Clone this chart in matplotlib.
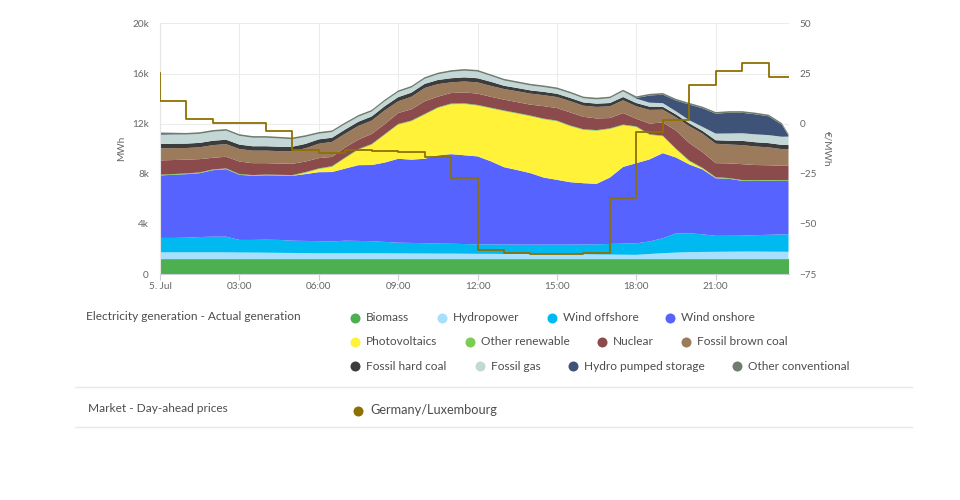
import numpy as np
import matplotlib
matplotlib.use('Agg')
import matplotlib.pyplot as plt
from matplotlib.lines import Line2D

plt.rcParams['font.family'] = ['Lato', 'DejaVu Sans']

W, H = 960, 500

# half hourly readings, last one is 23:45
hours = [i * 0.5 for i in range(48)] + [23.75]

biomass = [1180] * 49
hydro = [550, 550, 550, 550, 550, 550, 540, 530, 520, 510,
         500, 490, 480, 480, 480, 480, 480, 470, 470, 460,
         460, 450, 450, 440, 430, 430, 420, 420, 420, 420,
         420, 410, 400, 380, 370, 360, 350, 420, 480, 530,
         570, 580, 590, 600, 610, 610, 600, 600, 590]
wind_offshore = [1150, 1150, 1170, 1220, 1250, 1250, 1000, 1010, 1040, 1030,
                 980, 970, 960, 940, 1000, 980, 960, 910, 850, 840,
                 820, 800, 790, 770, 760, 750, 760, 750, 750, 750,
                 750, 760, 780, 810, 850, 890, 920, 1000, 1190, 1540,
                 1500, 1410, 1280, 1270, 1270, 1310, 1350, 1380, 1400]
wind_onshore = [4990, 5040, 5070, 5100, 5310, 5390, 5200, 5120, 5140, 5140,
                5180, 5340, 5510, 5540, 5760, 6050, 6080, 6340, 6700, 6650,
                6740, 7040, 7150, 7090, 7020, 6640, 6170, 5950, 5700, 5350,
                5170, 4980, 4890, 4830, 5300, 6120, 6400, 6550, 6800, 6050,
                5500, 5180, 4600, 4550, 4380, 4330, 4310, 4270, 4260]
photovoltaics = [0, 0, 0, 0, 0, 0, 0, 0, 0, 0,
                 0, 100, 240, 410, 830, 1230, 1620, 2220, 2720, 3060,
                 3520, 3780, 3980, 4090, 4050, 4220, 4470, 4500, 4540, 4650,
                 4670, 4470, 4250, 4230, 3870, 3320, 2880, 1950, 1340, 650,
                 250, 70, 20, 0, 0, 0, 0, 0, 0]
other_renewable = [60] * 49
nuclear = [1140, 1120, 1100, 1060, 930, 930, 1000, 950, 910, 900,
           900, 840, 820, 740, 800, 750, 800, 800, 870, 900,
           1010, 850, 840, 870, 900, 870, 860, 860, 870, 990,
           1000, 1040, 990, 930, 820, 920, 600, 850, 1050, 1440,
           1400, 1250, 1120, 1170, 1270, 1210, 1180, 1150, 1150]
brown_coal = [960, 950, 930, 950, 1010, 1010, 1000, 1000, 1000, 990,
              1010, 1060, 1150, 1200, 1100, 1100, 1070, 1100, 940, 1000,
              1060, 1000, 850, 870, 900, 870, 850, 870, 880, 880,
              880, 900, 890, 920, 940, 1020, 1000, 1090, 1020, 1060,
              1340, 1470, 1550, 1510, 1520, 1480, 1430, 1330, 1330]
hard_coal = [350] * 13 + [330] * 13 + [260] * 12 + [230] * 4 + [280, 300] + [340] * 5
gas = [730, 720, 720, 720, 720, 720, 700, 680, 680, 660,
       600, 560, 450, 450, 430, 400, 390, 390, 400, 400,
       400, 450, 510, 530, 530, 460, 420, 400, 390, 380,
       370, 360, 330, 340, 380, 450, 350, 320, 290, 250,
       250, 320, 530, 580, 610, 630, 640, 650, 660]
pumped_storage = [60, 30] + [0] * 34 + [50, 570, 680, 860, 1250, 1480, 1590, 1650, 1630, 1600, 1500, 960, 70]
other_conventional = [130] * 49

# hourly price, first value is the spike at the left edge
price_hours = [0, 0, 1, 2, 3, 4, 5, 6, 7, 8, 9, 10, 11, 12, 13, 14, 15, 16, 17, 18, 19, 20, 21, 22, 23, 23.75]
price = [25.3, 11.5, 2.3, 0.2, 0.1, -3.7, -13.2, -14.8, -13.2, -13.8, -14.3, -16.8, -27.2,
         -62.8, -64.3, -64.8, -64.8, -64.3, -37.0, -4.3, 1.8, 19.2, 26.2, 30.5, 23.3, 23.3]

series = [biomass, hydro, wind_offshore, wind_onshore, photovoltaics, other_renewable,
          nuclear, brown_coal, hard_coal, gas, pumped_storage, other_conventional]
colors = ['#4caf50', '#a8dffc', '#00b9f1', '#5763ff', '#fff238', '#7ecb52',
          '#8b4a4c', '#9b7b5c', '#3c3c3c', '#c3d8d6', '#3f5278', '#6f7c6e']
price_color = '#8d7000'

legend_rows = [
    [('Biomass', 355), ('Hydropower', 442), ('Wind offshore', 552), ('Wind onshore', 670)],
    [('Photovoltaics', 355), ('Other renewable', 470), ('Nuclear', 602), ('Fossil brown coal', 686)],
    [('Fossil hard coal', 355), ('Fossil gas', 480), ('Hydro pumped storage', 573), ('Other conventional', 737)],
]
legend_y = [317.5, 341.7, 366]

fig = plt.figure(figsize=(W / 100, H / 100), dpi=100)
ax = fig.add_axes([160 / W, (H - 274) / H, 628.5 / W, 250.5 / H])

ax.stackplot(hours, series, colors=colors, linewidth=0, zorder=2)
ax.set_xlim(0, 23.75)
ax.set_ylim(0, 20000)
ax.set_xticks(range(0, 24, 3))
ax.set_xticklabels(['5. Jul', '03:00', '06:00', '09:00', '12:00', '15:00', '18:00', '21:00'])
ax.set_yticks([0, 4000, 8000, 12000, 16000, 20000])
ax.set_yticklabels(['0', '4k', '8k', '12k', '16k', '20k'])
ax.grid(True, color='#ebebeb', linewidth=0.75, zorder=0)
ax.set_axisbelow(True)
for s in ax.spines.values():
    s.set_visible(False)
ax.spines['bottom'].set_visible(True)
ax.spines['bottom'].set_color('#c8d0d8')
ax.spines['left'].set_visible(True)
ax.spines['left'].set_color('#e6e6e6')
ax.tick_params(axis='x', length=4, color='#c8d0d8', labelsize=7.2, labelcolor='#666666', pad=2)
ax.tick_params(axis='y', length=0, labelsize=7.2, labelcolor='#666666', pad=8)
ax.set_ylabel('MWh', fontsize=7.2, color='#666666', labelpad=4)

ax2 = ax.twinx()
ax2.step(price_hours, price, where='post', color=price_color, linewidth=1.3, zorder=5)
ax2.set_ylim(-75, 50)
ax2.set_yticks([-75, -50, -25, 0, 25, 50])
ax2.set_yticklabels(['\u221275', '\u221250', '\u221225', '0', '25', '50'])
for s in ax2.spines.values():
    s.set_visible(False)
ax2.tick_params(axis='y', length=0, labelsize=7.2, labelcolor='#666666', pad=8)
ax2.set_ylabel('\u20ac/MWh', fontsize=7.2, color='#666666', labelpad=10, rotation=270)


def px_text(x, y, s, size=8.6, color='#4d4d4d'):
    fig.text(x / W, 1 - y / H, s, fontsize=size, color=color, va='center', ha='left')


def px_dot(x, y, color, size=10):
    fig.add_artist(Line2D([x / W], [1 - y / H], marker='o', markersize=size * 0.72, color=color,
                          markeredgewidth=0, linestyle='none', transform=fig.transFigure))


def px_rule(y):
    fig.add_artist(Line2D([75 / W, 912 / W], [1 - y / H, 1 - y / H], color='#e8e8e8', linewidth=1,
                          transform=fig.transFigure))


k = 0
for row, y in zip(legend_rows, legend_y):
    for name, x in row:
        px_dot(x, y, colors[k])
        px_text(x + 11, y, name)
        k += 1

px_text(86, 316.5, 'Electricity generation - Actual generation')
px_text(88, 408, 'Market - Day-ahead prices')
px_dot(358, 410.5, price_color)
px_text(370, 410.5, 'Germany/Luxembourg', size=9.2)
px_rule(387)
px_rule(427)

fig.savefig('out.png', dpi=100)
